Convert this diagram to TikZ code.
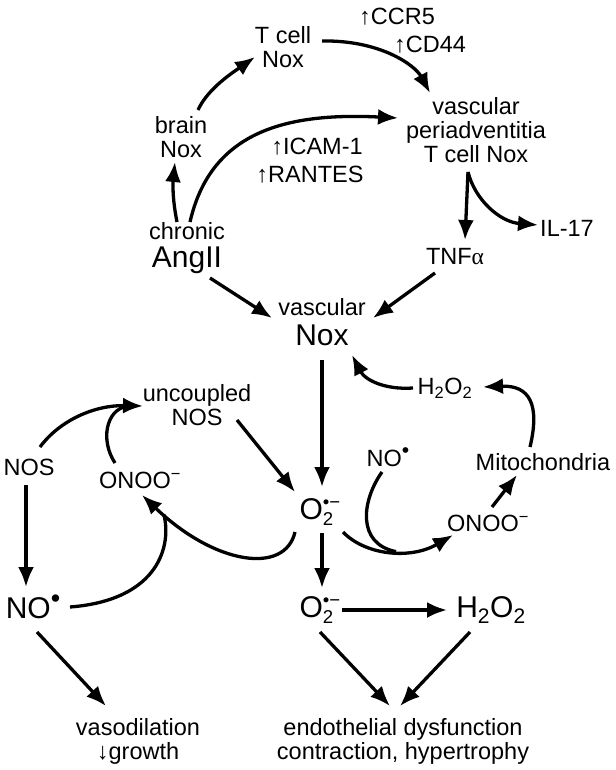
\documentclass[tikz,border=0pt]{standalone}
\usepackage{fontspec}
\usepackage{graphicx}
\setmainfont{Liberation Sans}
\newfontfamily\alphafont{Liberation Serif}
\usetikzlibrary{arrows.meta}
\newcommand\normsz{\fontsize{23.5}{24}\selectfont}
\newcommand\bigsz{\fontsize{30}{30}\selectfont}
\newcommand\myrad{\raisebox{0.36em}{\scalebox{0.9}{•}}}
\newcommand\mysupsub[2]{\setbox0\hbox{\raisebox{0.36em}{\scalebox{0.62}{#1}}}\setbox2\hbox{\raisebox{-0.22em}{\scalebox{0.62}{#2}}}\rlap{\box2}\box0}
\begin{document}
\begin{tikzpicture}[x=1pt,y=-1pt,
  lbl/.style={inner sep=0pt,align=center,font=\normsz},
  arr/.style={line width=3.3pt,-{Latex[length=20pt,width=16pt]}},
  ln/.style={line width=3.3pt}]
\useasboundingbox (0,0) rectangle (615,770);
% nodes
\node[lbl] (ccr5) at (397,17) {↑CCR5};
\node[lbl] (cd44) at (430,45) {↑CD44};
\node[lbl] (tcell) at (283,47) {T cell\\Nox};
\node[lbl] (vperi) at (476,130) {vascular\\periadventitia\\T cell Nox};
\node[lbl] (icam) at (317,147) {↑ICAM-1};
\node[lbl] (rantes) at (310,175) {↑RANTES};
\node[lbl] (brain) at (181,137) {brain\\Nox};
\node[lbl] (angii) at (187,248) {chronic\\[4pt]{\bigsz AngII}};
\node[lbl] (tnf) at (455,257) {TNF{\alphafont α}};
\node[lbl] (il17) at (567,228) {IL-17};
\node[lbl] (vnox) at (322,322) {vascular\\[6pt]{\bigsz Nox}};
\node[lbl] (h2o2u) at (445,388) {H\textsubscript{2}O\textsubscript{2}};
\node[lbl] (mito) at (543,462) {Mitochondria};
\node[lbl] (nor) at (388,457) {NO\myrad};
\node[lbl] (onoor) at (488,523) {ONOO\textsuperscript{−}};
\node[lbl,font=\bigsz] (o2) at (320,512) {O\mysupsub{•−}{2}};
\node[lbl] (unc) at (197,405) {uncoupled\\NOS};
\node[lbl] (nosl) at (29,467) {NOS};
\node[lbl] (onool) at (140,480) {ONOO\textsuperscript{−}};
\node[lbl,font=\bigsz] (nol) at (33,607) {NO\myrad};
\node[lbl,font=\bigsz] (o2l) at (320,610) {O\mysupsub{•−}{2}};
\node[lbl,font=\bigsz] (h2o2l) at (491,610) {H\textsubscript{2}O\textsubscript{2}};
\node[lbl] (vaso) at (138,741) {vasodilation\\↓growth};
\node[lbl] (endo) at (403,741) {endothelial dysfunction\\contraction, hypertrophy};
% top connectors
\draw[arr] ([shift={(-10,-26)}]angii.center) .. controls +(-5,-25) and +(-2,20) .. ([shift={(-6,25)}]brain.center);
\draw[arr] ([shift={(17,-27)}]brain.center) .. controls +(10,-22) and +(-20,14) .. ([shift={(-28,10)}]tcell.center);
\draw[arr] ([shift={(39,-6)}]tcell.center) .. controls +(58,-1) and +(-15,-28) .. ([shift={(-46,-37)}]vperi.center);
\draw[arr] ([shift={(3,-26)}]angii.center) .. controls +(20,-87) and +(-118,-6) .. ([shift={(-78,-12)}]vperi.center);
\draw[arr] ([shift={(-8,42)}]vperi.center) -- ([shift={(10,-17)}]tnf.center);
\draw[arr] ([shift={(-8,42)}]vperi.center) .. controls +(7,28) and +(-38,-3) .. ([shift={(-29,-3)}]il17.center);
\draw[arr] ([shift={(23,30)}]angii.center) -- ([shift={(-50,-4)}]vnox.center);
\draw[arr] ([shift={(-20,16)}]tnf.center) -- ([shift={(51,-4)}]vnox.center);
% middle
\draw[arr] ([shift={(0,38)}]vnox.center) -- ([shift={(2,-25)}]o2.center);
\draw[arr] ([shift={(-32,0)}]h2o2u.center) .. controls +(-28,2) and +(13,25) .. ([shift={(30,33)}]vnox.center);
\draw[arr] ([shift={(-13,-15)}]mito.center) .. controls +(10,-42) and +(47,-2) .. ([shift={(38,-1)}]h2o2u.center);
\draw[arr] ([shift={(4,-16)}]onoor.center) -- ([shift={(-26,13)}]mito.center);
\draw[arr] ([shift={(23,20)}]o2.center) .. controls +(22,23) and +(-43,25) .. ([shift={(-35,12)}]onoor.center) coordinate[pos=0.55] (mR);
\draw[ln] ([shift={(-6,15)}]nor.center) .. controls +(-20,28) and +(-40,-8) .. (mR);
\draw[arr] ([shift={(40,15)}]unc.center) -- ([shift={(-25,-20)}]o2.center);
\draw[arr] ([shift={(-25,20)}]o2.center) .. controls +(-10,43) and +(73,70) .. ([shift={(2,15)}]onool.center) coordinate[pos=0.9] (mL);
\draw[ln] ([shift={(37,0)}]nol.center) .. controls +(90,-7) and +(8,30) .. (mL);
\draw[arr] ([shift={(11,-20)}]nosl.center) .. controls +(20,-27) and +(-48,-1) .. ([shift={(-54,1)}]unc.center) coordinate[pos=0.88] (mU);
\draw[ln] ([shift={(-25,-17)}]onool.center) .. controls +(-15,-23) and +(-20,4) .. (mU);
\draw[arr] ([shift={(-3,18)}]nosl.center) -- ([shift={(-7,-20)}]nol.center);
% bottom
\draw[arr] ([shift={(2,21)}]o2.center) -- ([shift={(2,-22)}]o2l.center);
\draw[arr] ([shift={(4,25)}]nol.center) -- ([shift={(-32,-35)}]vaso.center);
\draw[arr] ([shift={(22,0)}]o2l.center) -- ([shift={(-44,0)}]h2o2l.center);
\draw[arr] ([shift={(0,22)}]o2l.center) -- ([shift={(-13,-35)}]endo.center);
\draw[arr] ([shift={(-21,22)}]h2o2l.center) -- ([shift={(-3,-35)}]endo.center);
\end{tikzpicture}
\end{document}
